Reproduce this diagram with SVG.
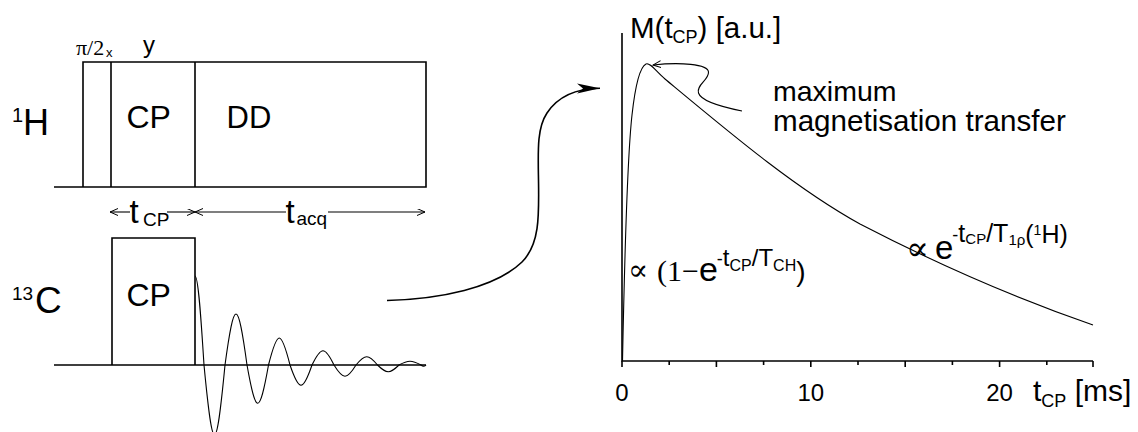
<svg xmlns="http://www.w3.org/2000/svg" width="1138" height="432" viewBox="0 0 1138 432">
<defs>
<style>
.s{font-family:"Liberation Sans",Arial,sans-serif;fill:#000}
.r{font-family:"Liberation Serif","DejaVu Serif",serif;fill:#000}
.ln{fill:none;stroke:#000;stroke-width:1.6}
.th{fill:none;stroke:#000;stroke-width:1.1}
</style>
<marker id="open" markerUnits="userSpaceOnUse" markerWidth="10" markerHeight="10" refX="8" refY="3.5" orient="auto-start-reverse" viewBox="0 0 10 10">
<path d="M0,0 L8,3.5 L0,7" fill="none" stroke="#000" stroke-width="1"/>
</marker>
<marker id="big" markerUnits="userSpaceOnUse" markerWidth="26" markerHeight="12" refX="23" refY="5.5" orient="auto" viewBox="0 0 26 12">
<path d="M0,0.5 L23,5.5 L0,10.5 L6,5.5 z" fill="#000"/>
</marker>
</defs>
<rect width="1138" height="432" fill="#fff"/>

<g id="channel-1H">
<path class="ln" d="M54,187 H426 V62 H83 V187 M111,62 V187 M195,62 V187"/>
<text class="s" x="12" y="122" font-size="20">1</text>
<text class="s" x="23" y="135" font-size="36">H</text>
<text class="r" x="76" y="55" font-size="22">π/2</text>
<text class="s" x="106" y="57" font-size="13">x</text>
<text class="s" x="143" y="53" font-size="24">y</text>
<text class="s" x="126.5" y="128" font-size="32">CP</text>
<text class="s" x="226.5" y="128" font-size="31">DD</text>
</g>

<g id="timing">
<text class="s" x="129.5" y="223" font-size="33">t</text>
<text class="s" x="143" y="226" font-size="19">CP</text>
<text class="s" x="285.5" y="223" font-size="33">t</text>
<text class="s" x="296.5" y="225" font-size="19">acq</text>
</g>

<g id="channel-13C">
<path class="ln" d="M54,365 H426 M112,365 V238 H195 V365"/>
<path class="th" d="M195,276 C198.3,276 201.1,319 204,365 C212.9,458 216.1,458 225,365 C234.2,297 237.8,297 247,365 C256.1,416 259.4,416 268.5,365 C277.6,329 280.9,329 290,365 C299.2,392 302.8,392 312,365 C321.2,346 324.8,346 334,365 C343.2,380 346.8,380 356,365 C365.1,354 368.4,354 377.5,365 C386.6,374 389.9,374 399,365 C408.2,360 411.8,360 421,365 C423,367 425,366.5 426,365"/>
<text class="s" x="12" y="300" font-size="19">13</text>
<text class="s" x="35" y="313" font-size="37">C</text>
<text class="s" x="126.5" y="306" font-size="32">CP</text>
</g>

<g id="plot">
<path class="ln" d="M622,33 V361 H1093"/>
<path class="ln" d="M622,361 v6 M669.2,361 v4 M716.4,361 v6 M763.6,361 v4 M810.8,361 v6 M858,361 v4 M905.2,361 v6 M952.4,361 v4 M999.6,361 v6 M1046.8,361 v4 M1093,361 v6"/>
<path class="th" d="M622.5,361 C624.5,260 627,160 632,115 C635,88 640,67 646,64 C650,62 656,71.5 665,79 C730,133 795,188 860,224 C938,264.5 1015,298 1093,325"/>
<text class="s" x="630" y="38" font-size="29.5">M(t<tspan font-size="18" dy="5">CP</tspan><tspan dy="-5">) [a.u.]</tspan></text>
<text class="s" x="622" y="401" font-size="24" text-anchor="middle">0</text>
<text class="s" x="810.8" y="401" font-size="24" text-anchor="middle">10</text>
<text class="s" x="999.6" y="401" font-size="24" text-anchor="middle">20</text>
<text class="s" x="1033" y="401" font-size="30">t<tspan font-size="18" dy="6">CP</tspan><tspan dy="-6"> [ms]</tspan></text>
<text class="s" x="773" y="101" font-size="28.5">maximum</text>
<text class="s" x="773" y="131" font-size="29.6">magnetisation transfer</text>
</g>

<g id="formula-rise">
<text class="r" x="628" y="280" font-size="30">∝</text>
<text class="r" x="657" y="281" font-size="30">(1−<tspan class="s" font-size="34">e</tspan><tspan class="s" font-size="18" dx="-1" dy="-16">-</tspan><tspan class="s" font-size="24" dy="1">t</tspan><tspan class="s" font-size="16" dy="5">CP</tspan><tspan class="s" font-size="24" dy="-5">/T</tspan><tspan class="s" font-size="16" dy="5">CH</tspan><tspan class="s" font-size="28" dy="10">)</tspan></text>
</g>

<g id="formula-decay">
<text class="r" x="906" y="260" font-size="34">∝</text>
<text class="s" x="935" y="259" font-size="33">e<tspan font-size="18" dx="-1" dy="-18">-</tspan><tspan font-size="25" dy="1">t</tspan><tspan font-size="15" dy="2">CP</tspan><tspan font-size="25" dy="-2">/T</tspan><tspan font-size="15" dy="3">1ρ</tspan><tspan font-size="25" dy="-2">(</tspan><tspan font-size="14" dy="-8">1</tspan><tspan font-size="25" dy="8">H)</tspan></text>
</g>

<g id="connectors">
<path class="th" d="M130,212 H110" marker-end="url(#open)"/>
<path class="th" d="M167,212 H195" marker-end="url(#open)"/>
<path class="th" d="M286,212 H195" marker-end="url(#open)"/>
<path class="th" d="M328,212 H425" marker-end="url(#open)"/>
<path class="ln" d="M387,300.5 C440,299 495,288 522,262 C540,244 539,215 538.5,180 C538,150 537,128 547,113 C557,98 575,88.5 600,88.3" marker-end="url(#big)"/>
<path class="th" d="M742,111 C722,107 701,101 698.5,93 C696,85 709,80 708.5,72 C708,64 680,62 653,65" marker-end="url(#open)"/>
</g>
</svg>
